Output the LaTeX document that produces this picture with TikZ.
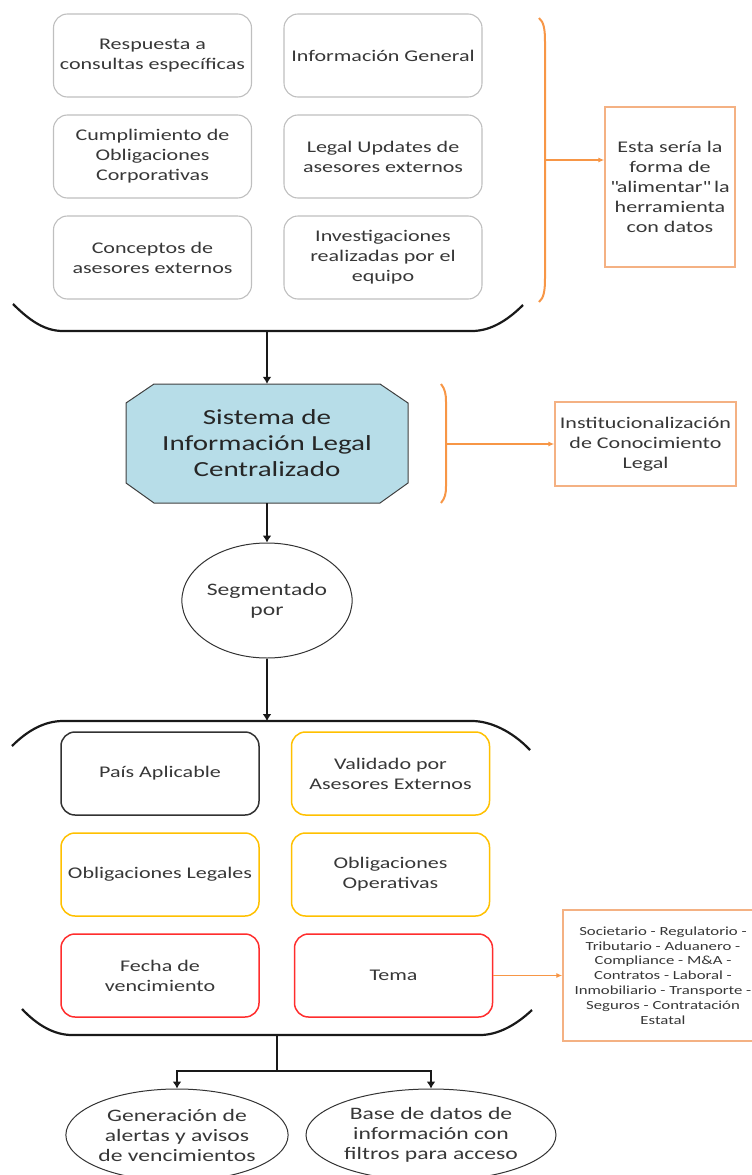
\documentclass[tikz,border=0pt]{standalone}
\usepackage{fontspec}
\setmainfont{Carlito}[FakeStretch=1.35]
\usepackage{xcolor}
\usepackage{tikz}
\usetikzlibrary{arrows.meta,shapes.geometric}

\definecolor{boxgray}{RGB}{191,191,191}
\definecolor{txtgray}{RGB}{55,55,55}
\definecolor{sysblue}{RGB}{183,221,232}
\definecolor{brorange}{RGB}{247,150,70}
\definecolor{boxorange}{RGB}{244,177,131}
\definecolor{segdark}{RGB}{50,50,50}
\definecolor{seggold}{RGB}{255,192,0}
\definecolor{segred}{RGB}{255,45,45}

\newcommand{\boxfont}{\fontsize{16.3pt}{20pt}\selectfont}
\newcommand{\bubfont}{\fontsize{17.5pt}{20pt}\selectfont}
\newcommand{\sysfont}{\fontsize{21.5pt}{26pt}\selectfont}
\newcommand{\listfont}{\fontsize{12.4pt}{14.8pt}\selectfont}

\begin{document}
\begin{tikzpicture}[x=1pt,y=-1pt,
  topbox/.style={draw=boxgray, line width=1.1pt, rounded corners=14pt,
    minimum width=198pt, minimum height=83pt, align=center, text=txtgray, font=\boxfont},
  segbox/.style={topbox, draw=#1, line width=1.5pt},
  notebox/.style={draw=boxorange, line width=1.4pt, align=center, text=txtgray, font=\boxfont},
  bubble/.style={ellipse, draw=black!80, line width=1pt, inner sep=0pt, align=center,
    text=txtgray, font=\bubfont},
  brace/.style={line width=2.2pt, black!90},
  obrace/.style={line width=2pt, brorange},
  arrow/.style={line width=2.2pt, black!90, -{Latex[length=7pt,width=9pt]}},
  oarrow/.style={line width=1.2pt, brorange, -{Latex[length=6pt,width=5pt]}}]

\useasboundingbox (0,0) rectangle (752,1175);

% fuentes de informacion
\node[topbox] (resp) at (152.5,55.5) {Respuesta a\\consultas específicas};
\node[topbox] (info) at (383,55.5) {Información General};
\node[topbox] (cumpl) at (152.5,156.5) {Cumplimiento de\\Obligaciones\\Corporativas};
\node[topbox] (updates) at (383,156.5) {Legal Updates de\\asesores externos};
\node[topbox] (concep) at (152.5,257.5) {Conceptos de\\asesores externos};
\node[topbox] (invest) at (383,257.5) {Investigaciones\\realizadas por el\\equipo};

\draw[brace] (13,304) .. controls (30,321) and (45,331) .. (63,331) -- (472,331)
  .. controls (490,331) and (507,321) .. (523,305);
\coordinate (topstem) at (267,331);

\draw[obrace] (539,18) .. controls (544,22) and (545,30) .. (545,42) -- (545,278)
  .. controls (545,290) and (544,298) .. (539,302);
\coordinate (feed) at (545,160);
\node[notebox, minimum width=130pt, minimum height=160pt] (feedbox) at (670,187)
  {Esta sería la\\forma de\\\textquotedbl alimentar\textquotedbl{} la\\herramienta\\con datos};
\draw[oarrow] (feed) -- (feed -| feedbox.west);

% sistema central
\draw[line width=1pt, draw=black!75, fill=sysblue] (126,403) -- (154,384) -- (380,384)
  -- (408,403) -- (408,483) -- (380,503) -- (154,503) -- (126,483) -- cycle;
\node[align=center, font=\sysfont, text=black!85, minimum width=282pt, minimum height=119pt,
  inner sep=0pt] (sys) at (267,443.5) {Sistema de\\Información Legal\\Centralizado};
\draw[arrow] (topstem) -- (sys);

\draw[obrace] (441,384) .. controls (445,389) and (446,394) .. (446,402) -- (446,486)
  .. controls (446,494) and (445,498) .. (441,503);
\coordinate (inst) at (446,444);
\node[notebox, minimum width=181pt, minimum height=84pt] (instbox) at (645.5,444)
  {Institucionalización\\de Conocimiento\\Legal};
\draw[oarrow] (inst) -- (instbox);

% segmentacion
\node[bubble, minimum width=158pt, minimum height=115pt] (seg) at (267,600.5) {Segmentado\\por};
\draw[arrow] (sys) -- (seg);
\coordinate (segtop) at (267,721);
\draw[arrow] (seg) -- (segtop);

\draw[brace] (12,746) .. controls (28,730) and (45,721) .. (63,721) -- (472,721)
  .. controls (490,721) and (512,731) .. (530,750);
\draw[brace] (22,1009) .. controls (38,1026) and (55,1035) .. (72,1035) -- (480,1035)
  .. controls (497,1035) and (515,1026) .. (532,1010);

\node[segbox=segdark] (pais) at (160,773.5) {País Aplicable};
\node[segbox=seggold] (valid) at (390.5,773.5) {Validado por\\Asesores Externos};
\node[segbox=seggold] (oblleg) at (160,874.5) {Obligaciones Legales};
\node[segbox=seggold] (oblop) at (390.5,874.5) {Obligaciones\\Operativas};
\node[segbox=segred] (fecha) at (160,975.5) {Fecha de\\vencimiento};
\node[segbox=segred] (tema) at (393.5,975.5) {Tema};

\node[notebox, font=\listfont, minimum width=200pt, minimum height=131pt] (temas) at (663,975.5)
  {Societario - Regulatorio -\\Tributario - Aduanero -\\Compliance - M\&A -\\Contratos - Laboral -\\Inmobiliario - Transporte -\\Seguros - Contratación\\Estatal};
\draw[oarrow] (tema) -- (temas);

% resultados
\coordinate (split) at (277,1035);
\coordinate (fork) at (277,1071);
\node[bubble, minimum width=206pt, minimum height=92pt] (alertas) at (177,1135)
  {Generación de\\alertas y avisos\\de vencimientos};
\node[bubble, minimum width=250pt, minimum height=92pt] (basedatos) at (431,1135)
  {Base de datos de\\información con\\filtros para acceso};
\draw[brace] (split) -- (fork);
\draw[arrow] (fork) -| (alertas);
\draw[arrow] (fork) -| (basedatos);

\end{tikzpicture}
\end{document}
